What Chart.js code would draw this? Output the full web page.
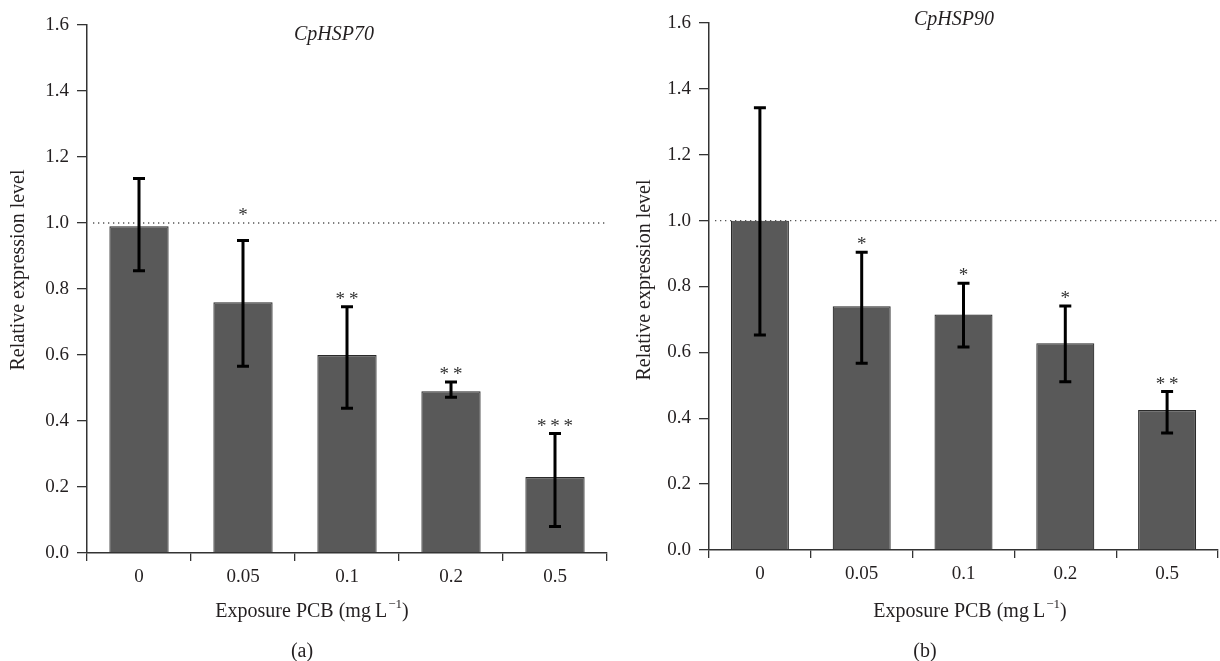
<!DOCTYPE html>
<html>
<head>
<meta charset="utf-8">
<script src="https://cdn.jsdelivr.net/npm/chart.js@4.4.0/dist/chart.umd.min.js"></script>
<style>
  html, body { margin: 0; padding: 0; background: #fff; }
  .wrap { display: flex; width: 1220px; height: 661px; }
  .panel { position: relative; width: 610px; height: 661px; }
</style>
</head>
<body>
<div class="wrap">
  <div class="panel"><canvas id="chartA"></canvas></div>
  <div class="panel"><canvas id="chartB"></canvas></div>
</div>
<script>
// exposure doses (mg/L)
const doses = ['0', '0.05', '0.1', '0.2', '0.5'];

// CpHSP70 relative expression, error bar ends, significance
const hsp70Mean = [0.99, 0.76, 0.60, 0.49, 0.23];
const hsp70Upper = [1.135, 0.947, 0.746, 0.518, 0.362];
const hsp70Lower = [0.855, 0.566, 0.439, 0.472, 0.080];
const hsp70Stars = ['', '*', '**', '**', '***'];

// CpHSP90
const hsp90Mean = [1.00, 0.74, 0.715, 0.628, 0.425];
const hsp90Upper = [1.343, 0.904, 0.810, 0.741, 0.481];
const hsp90Lower = [0.653, 0.567, 0.616, 0.511, 0.355];
const hsp90Stars = ['', '*', '*', '*', '**'];

const SERIF = '"Liberation Serif", "DejaVu Serif", serif';
const INK = '#231f20';

const overlay = {
  id: 'overlay',
  beforeDatasetsDraw(chart, args, o) {
    const ctx = chart.ctx, area = chart.chartArea;
    const yRef = chart.scales.y.getPixelForValue(1.0);
    ctx.save();
    ctx.strokeStyle = '#555';
    ctx.lineWidth = 1.3;
    ctx.setLineDash([1.3, 3.7]);
    ctx.beginPath();
    ctx.moveTo(area.left + 6, yRef);
    ctx.lineTo(area.right, yRef);
    ctx.stroke();
    ctx.restore();
  },
  afterDatasetsDraw(chart, args, o) {
    const ctx = chart.ctx;
    const xs = chart.scales.x, ys = chart.scales.y;
    const yRef = ys.getPixelForValue(1.0);
    ctx.save();
    // error bars
    ctx.strokeStyle = '#000';
    ctx.lineWidth = 3;
    o.upper.forEach((u, i) => {
      const x = xs.getPixelForValue(i);
      const yT = ys.getPixelForValue(u);
      const yB = ys.getPixelForValue(o.lower[i]);
      ctx.beginPath();
      ctx.moveTo(x, yT); ctx.lineTo(x, yB);
      ctx.moveTo(x - 6, yT); ctx.lineTo(x + 6, yT);
      ctx.moveTo(x - 6, yB); ctx.lineTo(x + 6, yB);
      ctx.stroke();
    });
    // significance stars
    ctx.fillStyle = '#333';
    ctx.font = '19px ' + SERIF;
    ctx.textAlign = 'center';
    ctx.textBaseline = 'alphabetic';
    o.stars.forEach((s, i) => {
      if (!s) return;
      const x = xs.getPixelForValue(i);
      let c = ys.getPixelForValue(o.upper[i]) - 10;
      if (Math.abs(c - yRef) < 9) c = yRef - 10;
      ctx.fillText(s.split('').join('\u2009'), x, c + 8);
    });
    ctx.restore();
  },
  afterDraw(chart, args, o) {
    const ctx = chart.ctx;
    ctx.save();
    ctx.fillStyle = INK;
    // gene name
    ctx.font = 'italic 20px ' + SERIF;
    ctx.textAlign = 'center';
    ctx.textBaseline = 'middle';
    ctx.fillText(o.gene, o.geneX, o.geneY);
    // y title
    ctx.font = '20px ' + SERIF;
    ctx.save();
    ctx.translate(o.yTitleX, o.yTitleY);
    ctx.rotate(-Math.PI / 2);
    ctx.fillText('Relative expression level', 0, 0);
    ctx.restore();
    // x title with superscript
    const main = 'Exposure PCB (mg\u2009L';
    ctx.font = '20px ' + SERIF;
    const w1 = ctx.measureText(main).width;
    const w3 = ctx.measureText(')').width;
    ctx.font = '13px ' + SERIF;
    const w2 = ctx.measureText('\u22121').width + 1;
    let sx = o.xTitleX - (w1 + w2 + w3) / 2;
    ctx.textAlign = 'left';
    ctx.textBaseline = 'alphabetic';
    ctx.font = '20px ' + SERIF;
    ctx.fillText(main, sx, o.xTitleY);
    ctx.font = '13px ' + SERIF;
    ctx.fillText('\u22121', sx + w1 + 1, o.xTitleY - 9);
    ctx.font = '20px ' + SERIF;
    ctx.fillText(')', sx + w1 + w2, o.xTitleY);
    // panel letter
    ctx.textAlign = 'center';
    ctx.textBaseline = 'middle';
    ctx.fillText(o.panel, o.panelX, o.panelY);
    ctx.restore();
  }
};

function makeChart(id, mean, upper, lower, stars, look) {
  return new Chart(document.getElementById(id), {
    type: 'bar',
    data: {
      labels: doses,
      datasets: [{
        data: mean,
        backgroundColor: '#595959',
        borderColor: '#2a2a2a',
        borderWidth: 1.2,
        barPercentage: 0.57,
        categoryPercentage: 1.0
      }]
    },
    options: {
      responsive: true,
      maintainAspectRatio: false,
      animation: false,
      layout: { padding: look.padding },
      plugins: {
        legend: { display: false },
        tooltip: { enabled: false },
        overlay: Object.assign({ upper, lower, stars }, look.text)
      },
      scales: {
        x: {
          afterFit: (s) => { s.height = look.xHeight; },
          grid: { display: true, drawOnChartArea: false, drawTicks: true, tickLength: 8, offset: true, color: '#333', lineWidth: 1.3 },
          border: { display: true, color: '#333', width: 1.5 },
          ticks: { color: INK, font: { family: SERIF, size: 19 }, padding: 5 }
        },
        y: {
          min: 0, max: 1.6,
          afterFit: (s) => { s.width = 87; },
          grid: { display: true, drawOnChartArea: false, drawTicks: true, tickLength: 10, color: '#333', lineWidth: 1.3 },
          border: { display: true, color: '#333', width: 1.5 },
          ticks: { stepSize: 0.2, color: INK, font: { family: SERIF, size: 19 }, padding: 8,
                   callback: (v) => Number(v).toFixed(1) }
        }
      }
    },
    plugins: [overlay]
  });
}

makeChart('chartA', hsp70Mean, hsp70Upper, hsp70Lower, hsp70Stars, {
  padding: { top: 25, left: 0, right: 3, bottom: 0 },
  xHeight: 108,
  text: { gene: 'CpHSP70', geneX: 334, geneY: 35, yTitleX: 19, yTitleY: 270,
          xTitleX: 312, xTitleY: 617, panel: '(a)', panelX: 302, panelY: 652 }
});

makeChart('chartB', hsp90Mean, hsp90Upper, hsp90Lower, hsp90Stars, {
  padding: { top: 23, left: 12, right: 2, bottom: 0 },
  xHeight: 111,
  text: { gene: 'CpHSP90', geneX: 344, geneY: 20, yTitleX: 35, yTitleY: 280,
          xTitleX: 360, xTitleY: 617, panel: '(b)', panelX: 315, panelY: 652 }
});
</script>
</body>
</html>
